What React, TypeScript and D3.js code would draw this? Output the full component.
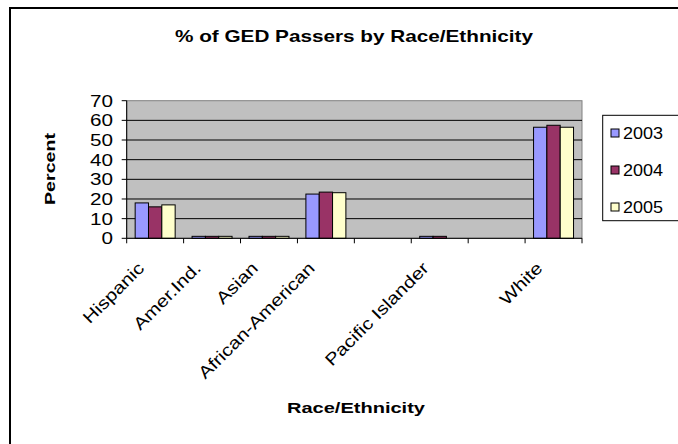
import React from "react";
import * as d3 from "d3";

// Category slots on the x axis (two slots carry no label)
const categories = ["Hispanic", "Amer.Ind.", "Asian", "African-American", "", "Pacific Islander", "", "White"];
const years = ["2003", "2004", "2005"];
const values2003 = [18, 1, 1, 22.5, 0, 1, 0, 56.5];
const values2004 = [16, 1, 1, 23.5, 0, 1, 0, 57.5];
const values2005 = [17, 1, 1, 23.2, 0, 0, 0, 56.5];
const yTicks = [0, 10, 20, 30, 40, 50, 60, 70];
const seriesColors = ["#9999FF", "#993366", "#FFFFCC"];

const series = [values2003, values2004, values2005];

const W = 678;
const H = 444;
const plot = { left: 126.7, right: 582, top: 100.7, bottom: 238.3 };
const FONT = "Arial, 'Liberation Sans', sans-serif";

export default function App() {
  const idx = categories.map((_, i) => i);
  const x = d3.scaleBand<number>().domain(idx).range([plot.left, plot.right]).paddingInner(0).paddingOuter(0);
  const y = d3.scaleLinear().domain([0, 70]).range([plot.bottom, plot.top]);
  const band = x.bandwidth();
  const barW = band / 4.27;
  const groupOffset = (band - barW * 3) / 2;

  return (
    <svg
      width={W}
      height={H}
      style={{ position: "absolute", left: 0, top: 0, background: "#fff" }}
      fontFamily={FONT}
    >
      {/* chart frame */}
      <rect x={10} y={8} width={720} height={480} fill="#fff" stroke="#000" strokeWidth={2} />

      {/* title */}
      <text x={354} y={41.5} textAnchor="middle" fontSize={17} fontWeight="bold" textLength={358} lengthAdjust="spacingAndGlyphs">
        % of GED Passers by Race/Ethnicity
      </text>

      {/* plot area */}
      <rect x={plot.left} y={plot.top} width={plot.right - plot.left} height={plot.bottom - plot.top} fill="#C0C0C0" stroke="#808080" strokeWidth={1} />
      {yTicks.filter((t) => t > 0 && t < 70).map((t) => (
        <line key={"g" + t} x1={plot.left} x2={plot.right} y1={y(t)} y2={y(t)} stroke="#000" strokeWidth={1} />
      ))}

      {/* bars */}
      {series.map((vals, s) =>
        vals.map((v, i) =>
          v > 0 ? (
            <rect
              key={`b${s}-${i}`}
              x={(x(i) as number) + groupOffset + s * barW}
              y={y(v)}
              width={barW}
              height={y(0) - y(v)}
              fill={seriesColors[s]}
              stroke="#000"
              strokeWidth={1}
            />
          ) : null
        )
      )}

      {/* axes */}
      <line x1={plot.left} x2={plot.left} y1={plot.top} y2={plot.bottom} stroke="#000" strokeWidth={1} />
      <line x1={plot.left} x2={plot.right} y1={plot.bottom} y2={plot.bottom} stroke="#000" strokeWidth={1} />
      {yTicks.map((t) => (
        <g key={"yt" + t}>
          <line x1={plot.left - 5} x2={plot.left} y1={y(t)} y2={y(t)} stroke="#000" />
          <text
            x={113}
            y={y(t)}
            dy={6}
            textAnchor="end"
            fontSize={17}
            textLength={String(t).length * 11.5}
            lengthAdjust="spacingAndGlyphs"
          >
            {t}
          </text>
        </g>
      ))}
      {[...idx, idx.length].map((i) => {
        const xp = i < idx.length ? (x(i) as number) : plot.right;
        return <line key={"xt" + i} x1={xp} x2={xp} y1={plot.bottom} y2={plot.bottom + 5} stroke="#000" />;
      })}
      {categories.map((c, i) =>
        c ? (
          <g key={"xl" + i} transform={`translate(${(x(i) as number) + band / 2 - 10},${plot.bottom + 31}) rotate(-45) scale(1.2,1)`}>
            <text x={0} y={0} textAnchor="end" fontSize={17}>
              {c}
            </text>
          </g>
        ) : null
      )}

      {/* axis titles */}
      <text x={356} y={413} textAnchor="middle" fontSize={15} fontWeight="bold" textLength={138} lengthAdjust="spacingAndGlyphs">
        Race/Ethnicity
      </text>
      <text
        transform="translate(55,169) rotate(-90)"
        textAnchor="middle"
        fontSize={15}
        fontWeight="bold"
        textLength={72}
        lengthAdjust="spacingAndGlyphs"
      >
        Percent
      </text>

      {/* legend */}
      <rect x={602.7} y={115.3} width={120} height={105.4} fill="#fff" stroke="#000" strokeWidth={1} />
      {years.map((yr, s) => {
        const cy = 133 + s * 37;
        return (
          <g key={"lg" + yr}>
            <rect x={611} y={cy - 4} width={8} height={8} fill={seriesColors[s]} stroke="#000" strokeWidth={1} />
            <text x={623} y={cy + 6} fontSize={16} textLength={40} lengthAdjust="spacingAndGlyphs">
              {yr}
            </text>
          </g>
        );
      })}
    </svg>
  );
}
